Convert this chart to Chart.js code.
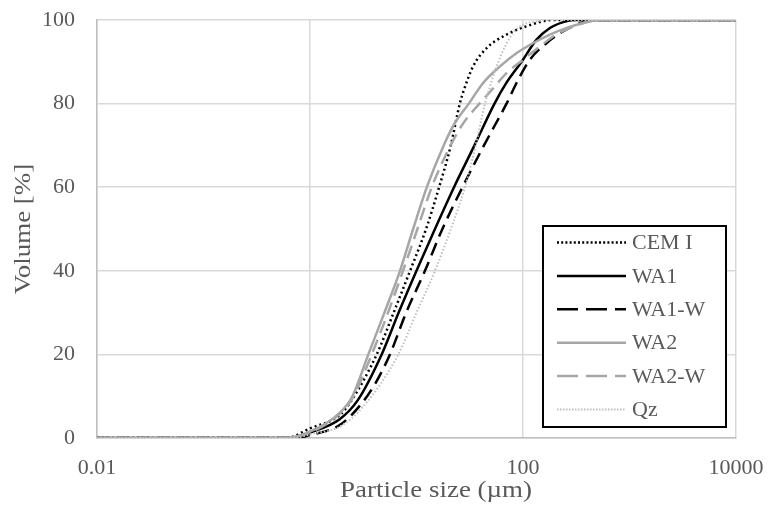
<!DOCTYPE html>
<html>
<head>
<meta charset="utf-8">
<script src="https://cdn.jsdelivr.net/npm/chart.js@4/dist/chart.umd.min.js"></script>
<style>
  html, body { margin: 0; padding: 0; background: #fff; }
  #wrap { width: 768px; height: 506px; }
</style>
</head>
<body>
<div id="wrap"><canvas id="psd"></canvas></div>
<script>
// particle size (µm) and cumulative volume (%)
const cemSize = [0.01, 0.6, 1.0, 1.9, 2.5, 4.23, 6.1, 8.7, 12.3, 16.3, 21, 25.5, 28, 34, 45.6, 70, 108, 190, 10000];
const cemVol = [0, 0, 2.3, 5.5, 9.3, 20, 30, 40, 50, 60, 70, 80, 83.4, 88.9, 93.3, 96.5, 98.5, 100, 100];

const wa1Size = [0.01, 0.65, 1.0, 1.9, 2.8, 4.71, 6.8, 10, 14.9, 22.5, 35, 54, 70, 97, 134, 179, 239, 300, 10000];
const wa1Vol = [0, 0, 1.3, 4.5, 9, 20, 30, 40, 50, 60, 70, 80, 85, 90, 95.3, 98.1, 99.5, 100, 100];

const wa1wSize = [0.01, 0.75, 1.0, 1.9, 3.0, 4.2, 5.63, 8.0, 12, 17.5, 27, 43, 70, 90, 116, 167, 239, 340, 460, 10000];
const wa1wVol = [0, 0, 0.7, 3.1, 8, 13.5, 20, 30, 40, 50, 60, 70, 80, 85.7, 90.5, 94.5, 97.3, 99.2, 100, 100];

const wa2Size = [0.01, 0.6, 1.0, 1.9, 2.5, 3.53, 5.0, 7.0, 9.3, 12.5, 18, 22.5, 31, 42.4, 60.8, 87.3, 125, 179, 257, 369, 530, 10000];
const wa2Vol = [0, 0, 1.5, 6, 10, 20, 30, 40, 50, 60, 70, 75, 80, 85, 88.9, 92.1, 94.5, 96.5, 98.1, 99.3, 100, 100];

const wa2wSize = [0.01, 0.6, 1.0, 1.9, 2.5, 3.8, 5.4, 7.47, 10.2, 13.9, 19.5, 27, 39, 52.6, 70, 100, 145, 193, 277, 369, 550, 10000];
const wa2wVol = [0, 0, 1.3, 5.8, 9.5, 20, 30, 40, 50, 60, 68.5, 75, 80, 83.7, 87.3, 90.5, 93.7, 96.1, 98.1, 99.3, 100, 100];

const qzSize = [0.01, 0.7, 1.05, 1.9, 3.15, 6.75, 10, 14.9, 21, 28.5, 36, 44, 49, 56.6, 67.8, 81, 100, 134, 180, 10000];
const qzVol = [0, 0, 1, 2.7, 7.5, 20, 30, 40, 50, 60, 70, 80, 84.1, 88.9, 93.7, 96.9, 98.9, 99.7, 100, 100];

const seriesNames = ['CEM I', 'WA1', 'WA1-W', 'WA2', 'WA2-W', 'Qz'];
const xTicks = [0.01, 1, 100, 10000];
const yTicks = [0, 20, 40, 60, 80, 100];
const xTitle = 'Particle size (µm)';
const yTitle = 'Volume [%]';

const FONT = '"Liberation Serif", "Times New Roman", serif';
const TEXT = '#595959';

const toPoints = (xs, ys) => xs.map((x, i) => ({ x, y: ys[i] }));

const styles = [
  { color: '#000000', width: 2.5, dash: [2, 3], legendDash: [2, 2.2] },
  { color: '#000000', width: 2.5, dash: [], legendDash: [] },
  { color: '#000000', width: 2.5, dash: [13, 7], legendDash: [21, 8] },
  { color: '#a6a6a6', width: 2.5, dash: [], legendDash: [] },
  { color: '#a6a6a6', width: 2.5, dash: [13, 7], legendDash: [21, 8] },
  { color: '#bfbfbf', width: 2, dash: [1.5, 2], legendDash: [1.5, 1.5] }
];

const series = [
  toPoints(cemSize, cemVol),
  toPoints(wa1Size, wa1Vol),
  toPoints(wa1wSize, wa1wVol),
  toPoints(wa2Size, wa2Vol),
  toPoints(wa2wSize, wa2wVol),
  toPoints(qzSize, qzVol)
];

const datasets = series.map((pts, i) => ({
  label: seriesNames[i],
  data: pts,
  borderColor: styles[i].color,
  borderWidth: styles[i].width,
  borderDash: styles[i].dash,
  pointRadius: 0,
  cubicInterpolationMode: 'monotone',
  fill: false,
  order: series.length - i // later series drawn on top, like Excel
}));

// axis titles are a bit wider than plain Times, so draw them stretched
const axisTitles = {
  id: 'axisTitles',
  afterDraw(chart) {
    const { ctx, chartArea } = chart;
    ctx.save();
    ctx.fillStyle = TEXT;
    ctx.font = '23px ' + FONT;
    ctx.textAlign = 'center';
    ctx.textBaseline = 'middle';

    ctx.save();
    ctx.translate(436, 491);
    ctx.scale(1.17, 1);
    ctx.fillText(xTitle, 0, 0);
    ctx.restore();

    ctx.save();
    ctx.translate(24, (chartArea.top + chartArea.bottom) / 2);
    ctx.rotate(-Math.PI / 2);
    ctx.scale(1.17, 1);
    ctx.fillText(yTitle, 0, 0);
    ctx.restore();

    ctx.restore();
  }
};

// legend box sitting inside the plot, bottom right
const insideLegend = {
  id: 'insideLegend',
  afterDraw(chart) {
    const { ctx, chartArea } = chart;
    const boxR = chartArea.right - 10;
    const boxB = chartArea.bottom - 11;
    const boxL = boxR - 183;
    const boxT = boxB - 201;
    ctx.save();
    ctx.fillStyle = '#fff';
    ctx.fillRect(boxL, boxT, boxR - boxL, boxB - boxT);
    ctx.strokeStyle = '#000';
    ctx.lineWidth = 2;
    ctx.strokeRect(boxL, boxT, boxR - boxL, boxB - boxT);
    ctx.font = '22px ' + FONT;
    ctx.textBaseline = 'middle';
    ctx.textAlign = 'left';
    seriesNames.forEach((name, i) => {
      const y = boxT + 16.5 + i * 33.4;
      const s = styles[i];
      ctx.beginPath();
      ctx.setLineDash(s.legendDash);
      ctx.strokeStyle = s.color;
      ctx.lineWidth = s.width;
      ctx.moveTo(boxL + 14, y);
      ctx.lineTo(boxL + 83, y);
      ctx.stroke();
      ctx.setLineDash([]);
      ctx.fillStyle = TEXT;
      ctx.fillText(name, boxL + 89, y + 1);
    });
    ctx.restore();
  }
};

new Chart(document.getElementById('psd'), {
  type: 'line',
  data: { datasets },
  options: {
    responsive: true,
    maintainAspectRatio: false,
    animation: false,
    layout: { padding: { top: 20, right: 32, bottom: 0, left: 0 } },
    plugins: { legend: { display: false }, tooltip: { enabled: false } },
    scales: {
      x: {
        type: 'logarithmic',
        min: 0.01,
        max: 10000,
        afterBuildTicks: (scale) => { scale.ticks = xTicks.map(v => ({ value: v })); },
        afterFit: (scale) => {
          scale.height = 68;
          scale.paddingLeft = 0;
          scale.paddingRight = 0;
        },
        ticks: {
          callback: (v) => String(v),
          color: TEXT,
          font: { family: FONT, size: 22 },
          padding: 17,
          maxRotation: 0,
          autoSkip: false
        },
        grid: { color: '#d9d9d9', lineWidth: 1.5, drawTicks: false },
        border: { color: '#bfbfbf', width: 1.5 }
      },
      y: {
        min: 0,
        max: 100,
        afterBuildTicks: (scale) => { scale.ticks = yTicks.map(v => ({ value: v })); },
        afterFit: (scale) => {
          scale.width = 97;
          scale.paddingTop = 0;
          scale.paddingBottom = 0;
        },
        ticks: {
          color: TEXT,
          font: { family: FONT, size: 22 },
          padding: 22
        },
        grid: { color: '#d9d9d9', lineWidth: 1.5, drawTicks: false },
        border: { color: '#bfbfbf', width: 1.5 }
      }
    }
  },
  plugins: [insideLegend, axisTitles]
});
</script>
</body>
</html>
